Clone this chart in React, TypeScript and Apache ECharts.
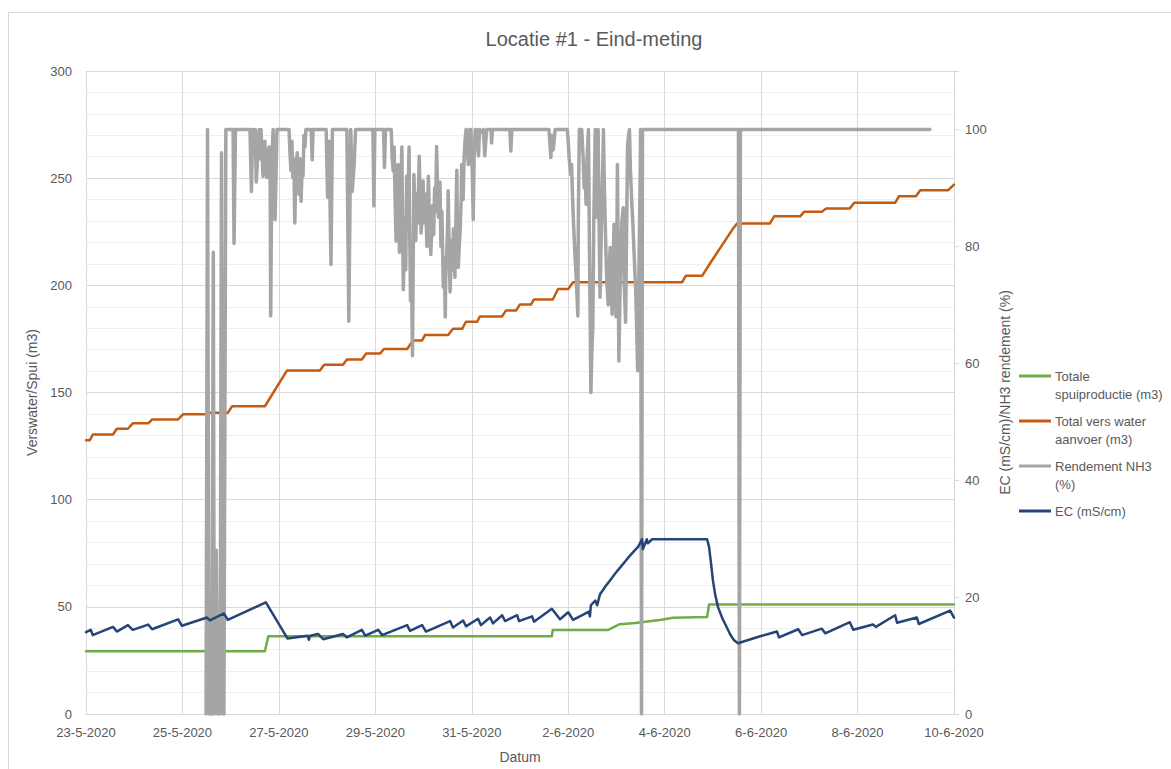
import React, { useEffect, useRef } from "react";
import * as echarts from "echarts";

// X values are days since 23-5-2020 00:00
const xTickLabels = ["23-5-2020", "25-5-2020", "27-5-2020", "29-5-2020", "31-5-2020", "2-6-2020", "4-6-2020", "6-6-2020", "8-6-2020", "10-6-2020"];
const leftTicks = [0, 50, 100, 150, 200, 250, 300];
const rightTicks = [0, 20, 40, 60, 80, 100];

const seriesNames = ["Totale spuiproductie (m3)", "Total vers water aanvoer (m3)", "Rendement NH3 (%)", "EC (mS/cm)"];
const legendLabels = ["Totale\nspuiproductie (m3)", "Total vers water\naanvoer (m3)", "Rendement NH3\n(%)", "EC (mS/cm)"];
const seriesColors = ["#70AD47", "#C55A11", "#A5A5A5", "#264478"];

const spuiData = [
  [0, 29.3], [3.71, 29.3], [3.78, 36.3], [9.66, 36.3], [9.68, 39.2], [10.83, 39.2], [10.91, 40.2],
  [11.07, 41.9], [11.39, 42.5], [11.9, 43.9], [12.17, 44.9], [12.88, 45.2], [12.92, 51.1], [18, 51.1],
];

const versWaterData = [
  [0, 127.7], [0.08, 127.7], [0.14, 130.4], [0.56, 130.4], [0.64, 133.1], [0.87, 133.1], [0.97, 135.6],
  [1.29, 135.6], [1.37, 137.4], [1.91, 137.4], [2.01, 139.8], [2.53, 139.8], [2.57, 140.5], [2.94, 140.5],
  [3.03, 143.6], [3.71, 143.6], [4.17, 160.3], [4.85, 160.3], [4.94, 163], [5.33, 163], [5.41, 165.4],
  [5.72, 165.4], [5.81, 168.2], [6.1, 168.2], [6.18, 170.3], [6.66, 170.3], [6.78, 174.3], [6.97, 174.3],
  [7.03, 176.8], [7.51, 176.8], [7.61, 179.7], [7.8, 179.7], [7.88, 183], [8.11, 183], [8.17, 185.5],
  [8.63, 185.5], [8.71, 188.3], [8.92, 188.3], [9.0, 191.1], [9.23, 191.1], [9.29, 193.4], [9.68, 193.4],
  [9.79, 198.3], [10.0, 198.3], [10.1, 201.4], [12.36, 201.4], [12.44, 204.5], [12.78, 204.5],
  [12.94, 210.2], [13.4, 225.9], [13.5, 228.8], [14.18, 228.8], [14.27, 232.2], [14.81, 232.2],
  [14.89, 234.3], [15.26, 234.3], [15.35, 235.9], [15.84, 235.9], [15.93, 238.5], [16.78, 238.5],
  [16.86, 241.6], [17.21, 241.6], [17.3, 244.4], [17.88, 244.4], [18, 247],
];

const rendementData = [
  [2.49, 0], [2.52, 100], [2.55, 0], [2.61, 0], [2.64, 79], [2.66, 0], [2.7, 28], [2.73, 0], [2.78, 0],
  [2.81, 96], [2.84, 0], [2.86, 0], [2.9, 100],
  [3.05, 100], [3.07, 80.5], [3.1, 100], [3.4, 100], [3.42, 93], [3.43, 89.4], [3.45, 97], [3.46, 100],
  [3.49, 96], [3.51, 100], [3.53, 91], [3.55, 93.7], [3.57, 98], [3.59, 100], [3.61, 95], [3.63, 100],
  [3.65, 96], [3.67, 92], [3.69, 97], [3.71, 98], [3.73, 93], [3.75, 91.8], [3.77, 96], [3.8, 97],
  [3.82, 90], [3.83, 68.1], [3.85, 90], [3.86, 96], [3.88, 100], [3.9, 94], [3.92, 84.6], [3.94, 92],
  [3.96, 100], [4.21, 100], [4.23, 96], [4.25, 93], [4.27, 98], [4.29, 91.8], [4.31, 95], [4.33, 84],
  [4.35, 92], [4.38, 96], [4.4, 92], [4.42, 88.9], [4.44, 95], [4.46, 87.7], [4.48, 93], [4.5, 92],
  [4.52, 99], [4.54, 97], [4.56, 100], [4.58, 100],
  [4.67, 100], [4.69, 94.8], [4.71, 100], [4.98, 100], [5.01, 88.4], [5.04, 98], [5.08, 76.9], [5.11, 100],
  [5.41, 100], [5.45, 67.2], [5.49, 100], [5.52, 89.4], [5.56, 94], [5.59, 100], [5.95, 100], [5.97, 86.9],
  [5.99, 100], [6.17, 100], [6.19, 93.5], [6.21, 100],
  [6.33, 100], [6.35, 95], [6.37, 92.9], [6.39, 97], [6.41, 88], [6.43, 80.9], [6.45, 86], [6.47, 94],
  [6.48, 91], [6.5, 79], [6.51, 83.8], [6.53, 90], [6.55, 97], [6.56, 88], [6.58, 72.6], [6.6, 80],
  [6.61, 85], [6.63, 76], [6.65, 92], [6.67, 86], [6.7, 97], [6.71, 84], [6.73, 70.7], [6.75, 75],
  [6.77, 61.3], [6.78, 72], [6.8, 92.3], [6.82, 86], [6.84, 81], [6.86, 89], [6.88, 84], [6.91, 95.4],
  [6.93, 88], [6.95, 82.3], [6.97, 86], [6.99, 91.2], [7.01, 84], [7.03, 89], [7.05, 86], [7.07, 80],
  [7.1, 92], [7.12, 85], [7.15, 78.6], [7.17, 83], [7.19, 87], [7.21, 82], [7.23, 90], [7.25, 86],
  [7.27, 97.1], [7.29, 90], [7.31, 85], [7.33, 88], [7.34, 91], [7.36, 80], [7.38, 86], [7.41, 73],
  [7.43, 78], [7.45, 67.9], [7.46, 75], [7.48, 78.6], [7.5, 84], [7.51, 89.5], [7.53, 80], [7.55, 72.2],
  [7.57, 77], [7.58, 81], [7.6, 76], [7.62, 83], [7.65, 74.7], [7.67, 84], [7.69, 93], [7.7, 85],
  [7.72, 76.4], [7.74, 80], [7.76, 83], [7.78, 88], [7.79, 94], [7.81, 91], [7.82, 88], [7.84, 95],
  [7.86, 98], [7.88, 100], [7.9, 97], [7.93, 94], [7.95, 100], [7.96, 99], [7.98, 100], [8.01, 93],
  [8.03, 84.6], [8.05, 96], [8.07, 100], [8.1, 100], [8.12, 97], [8.14, 95.5], [8.16, 100], [8.21, 99.5],
  [8.24, 100], [8.27, 95.5], [8.29, 98], [8.31, 100],
  [8.4, 100], [8.41, 97.7], [8.43, 100], [8.79, 100], [8.81, 96.3], [8.83, 100], [9.6, 100], [9.64, 95.2],
  [9.66, 99], [9.69, 96.5], [9.73, 100],
  [9.98, 100], [10.0, 98], [10.02, 95], [10.05, 92.3], [10.07, 94], [10.09, 88.4], [10.11, 84],
  [10.14, 78.6], [10.17, 74], [10.2, 68.1], [10.21, 85], [10.23, 100], [10.28, 100], [10.31, 95],
  [10.33, 90], [10.35, 93], [10.37, 87.2], [10.39, 95], [10.42, 100], [10.44, 80], [10.47, 55],
  [10.49, 62], [10.51, 66.2], [10.53, 84], [10.56, 100], [10.58, 92], [10.59, 85], [10.61, 95],
  [10.62, 100], [10.64, 84], [10.66, 71.3], [10.68, 80], [10.7, 88], [10.72, 95], [10.73, 100],
  [10.75, 90], [10.78, 79.8], [10.8, 74], [10.83, 70], [10.85, 76], [10.87, 79.8], [10.89, 73],
  [10.91, 68.4], [10.93, 76], [10.95, 83.8], [10.97, 75], [10.99, 68], [11.01, 82], [11.02, 94],
  [11.04, 72], [11.05, 60.4], [11.07, 70], [11.09, 78.6], [11.11, 84], [11.14, 86.6], [11.16, 74],
  [11.19, 67], [11.21, 82], [11.23, 97], [11.25, 99], [11.27, 100], [11.29, 93], [11.32, 87.2],
  [11.34, 84], [11.36, 80], [11.38, 76], [11.4, 72.4], [11.42, 66], [11.44, 58.7], [11.46, 70],
  [11.47, 78.6], [11.49, 90], [11.5, 100], [11.52, 0], [11.54, 100],
  [13.53, 100], [13.55, 0], [13.57, 100], [17.5, 100],
];

const ecData = [
  [0, 14.0], [0.1, 14.4], [0.14, 13.5], [0.56, 14.9], [0.64, 14.1], [0.87, 15.2], [0.97, 14.4], [1.29, 15.3],
  [1.37, 14.5], [1.91, 16.2], [1.99, 15.1], [2.51, 16.5], [2.57, 16.0], [2.86, 17.2], [2.94, 16.1],
  [3.73, 19.1], [4.18, 12.9], [4.6, 13.4], [4.62, 12.7], [4.65, 13.4], [4.81, 13.7], [4.92, 12.8],
  [5.33, 13.7], [5.41, 13.1], [5.72, 14.4], [5.79, 13.4], [6.06, 14.4], [6.14, 13.5], [6.66, 15.2],
  [6.72, 14.2], [6.97, 15.2], [7.05, 14.1], [7.55, 15.9], [7.61, 14.8], [7.82, 16.0], [7.88, 15.0],
  [8.13, 16.3], [8.19, 15.2], [8.38, 16.5], [8.44, 15.5], [8.63, 16.9], [8.69, 15.9], [8.94, 16.9],
  [8.98, 15.9], [9.25, 16.7], [9.29, 15.8], [9.66, 18.0], [9.83, 16.2], [10.0, 17.4], [10.1, 16.1],
  [10.43, 17.5], [10.45, 16.7], [10.47, 18.6], [10.56, 19.4], [10.6, 18.6], [10.66, 20.5], [10.77, 21.8],
  [10.87, 22.9], [10.97, 24.0], [11.07, 25.0], [11.18, 26.1], [11.28, 27.1], [11.37, 27.9], [11.45, 28.6],
  [11.53, 29.9], [11.55, 28.2], [11.63, 29.9], [11.65, 29.2], [11.74, 29.9], [12.88, 29.9], [12.92, 28.6],
  [12.96, 25.9], [13.0, 22.9], [13.05, 20.3], [13.11, 18.2], [13.2, 16.3], [13.29, 14.8], [13.36, 13.6],
  [13.44, 12.6], [13.52, 12.1], [13.98, 13.3], [14.33, 14.1], [14.37, 13.1], [14.77, 14.5], [14.85, 13.5],
  [15.26, 14.6], [15.33, 13.8], [15.84, 15.7], [15.91, 14.4], [16.32, 15.3], [16.38, 14.9], [16.78, 16.9],
  [16.82, 15.6], [17.23, 16.5], [17.27, 15.4], [17.92, 17.7], [18.0, 16.5],
];

const FONT = "'Liberation Sans', Arial, sans-serif";
const TXT = "#595959";

export default function App() {
  const ref = useRef<HTMLDivElement>(null);

  useEffect(() => {
    document.body.style.margin = "0";
    const chart = echarts.init(ref.current!, null, { renderer: "svg" });

    const legendTop = 376;
    const legendStep = 45;
    const legendGraphics: any[] = [];
    legendLabels.forEach((label, i) => {
      const y = legendTop + i * legendStep;
      legendGraphics.push({
        type: "line",
        shape: { x1: 1019, y1: y, x2: 1051, y2: y },
        style: { stroke: seriesColors[i], lineWidth: 3 },
      });
      legendGraphics.push({
        type: "text",
        x: 1055,
        y: y - 9,
        style: {
          text: label,
          fill: TXT,
          font: `13px ${FONT}`,
          lineHeight: 18,
          verticalAlign: "top",
          align: "left",
        },
      });
    });

    const mkLine = (idx: number, data: number[][], yAxisIndex: number, width: number) => ({
      name: seriesNames[idx],
      type: "line",
      data,
      yAxisIndex,
      showSymbol: false,
      symbol: "none",
      lineStyle: { color: seriesColors[idx], width, cap: "round", join: "round" },
      itemStyle: { color: seriesColors[idx] },
    });

    chart.setOption({
      animation: false,
      backgroundColor: "#ffffff",
      textStyle: { fontFamily: FONT },
      title: {
        text: "Locatie #1 - Eind-meting",
        left: 594,
        textAlign: "center",
        top: 29,
        padding: 0,
        textStyle: { color: TXT, fontSize: 20, fontWeight: "normal", fontFamily: FONT },
      },
      grid: { left: 86, width: 868, top: 71, height: 644, containLabel: false },
      xAxis: {
        type: "value",
        min: 0,
        max: 18,
        interval: 2,
        name: "Datum",
        nameLocation: "middle",
        nameGap: 36,
        nameTextStyle: { color: TXT, fontSize: 14, fontFamily: FONT },
        axisLine: { show: true, lineStyle: { color: "#D9D9D9", width: 1 } },
        axisTick: { show: false },
        axisLabel: {
          color: TXT,
          fontSize: 13,
          fontFamily: FONT,
          margin: 12,
          formatter: (v: number) => xTickLabels[Math.round(v / 2)] ?? "",
        },
        splitLine: { show: true, lineStyle: { color: "#D9D9D9", width: 1 } },
      },
      yAxis: [
        {
          type: "value",
          min: leftTicks[0],
          max: leftTicks[leftTicks.length - 1],
          interval: 50,
          name: "Verswater/Spui (m3)",
          nameLocation: "middle",
          nameGap: 44,
          nameRotate: 90,
          nameTextStyle: { color: TXT, fontSize: 14, fontFamily: FONT },
          axisLine: { show: false },
          axisTick: { show: false },
          axisLabel: { color: TXT, fontSize: 13, fontFamily: FONT, margin: 14 },
          splitLine: { show: true, lineStyle: { color: "#D9D9D9", width: 1 } },
          minorTick: { show: false, splitNumber: 5 },
          minorSplitLine: { show: true, lineStyle: { color: "#EFEFEF", width: 1 } },
        },
        {
          type: "value",
          min: 0,
          max: 110,
          interval: 20,
          position: "right",
          name: "EC (mS/cm)/NH3 rendement (%)",
          nameLocation: "middle",
          nameGap: 44,
          nameRotate: 90,
          nameTextStyle: { color: TXT, fontSize: 14, fontFamily: FONT },
          axisLine: { show: true, lineStyle: { color: "#D9D9D9", width: 1 } },
          axisTick: { show: true, length: 5, lineStyle: { color: "#D9D9D9" } },
          axisLabel: {
            color: TXT,
            fontSize: 13,
            fontFamily: FONT,
            margin: 11,
            formatter: (v: number) => (rightTicks.includes(v) ? String(v) : ""),
          },
          splitLine: { show: false },
        },
      ],
      graphic: [
        {
          type: "rect",
          shape: { x: 8.5, y: 12.5, width: 1200, height: 800 },
          style: { fill: "none", stroke: "#D9D9D9", lineWidth: 1 },
          silent: true,
          z: -10,
        },
        ...legendGraphics,
      ],
      series: [
        mkLine(0, spuiData, 0, 2.5),
        mkLine(1, versWaterData, 0, 2.5),
        mkLine(2, rendementData, 1, 3.5),
        mkLine(3, ecData, 1, 2.5),
      ],
    });

    return () => chart.dispose();
  }, []);

  return <div ref={ref} style={{ width: 1171, height: 769 }} />;
}
